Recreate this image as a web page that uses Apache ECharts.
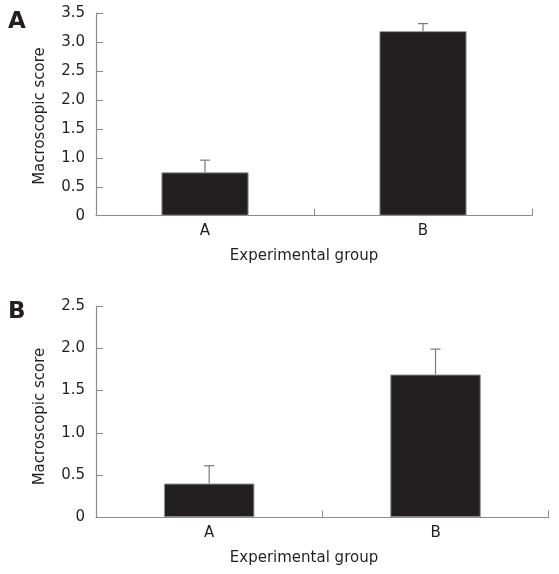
<!DOCTYPE html>
<html>
<head>
<meta charset="utf-8">
<script src="https://cdn.jsdelivr.net/npm/echarts@6/dist/echarts.min.js"></script>
<style>
html,body{margin:0;padding:0;background:#fff;}
#chart{width:559px;height:574px;}
</style>
</head>
<body>
<div id="chart"></div>
<script>
// ---- data ----
var categories = ['A', 'B'];
var panelA_means = [0.75, 3.19];
var panelA_errors = [0.21, 0.13];
var panelB_means = [0.40, 1.69];
var panelB_errors = [0.21, 0.30];
var panelA_ticks = [0, 3.5, 0.5];   // min, max, interval
var panelB_ticks = [0, 2.5, 0.5];
var panelLabels = ['A', 'B'];
var yTitle = 'Macroscopic score';
var xTitle = 'Experimental group';

var FONT = 'DejaVu Sans';
var TEXT = '#231f20';
var AXIS = '#8c8c8c';

function errData(means, errs) {
  return means.map(function (m, i) { return [i, m, errs[i]]; });
}

function errRender(params, api) {
  var i = api.value(0), m = api.value(1), e = api.value(2);
  var p0 = api.coord([i, m]);
  var p1 = api.coord([i, m + e]);
  var half = 5;
  var st = { stroke: '#7a7a7a', lineWidth: 1.2 };
  return {
    type: 'group',
    children: [
      { type: 'line', shape: { x1: p0[0], y1: p0[1], x2: p1[0], y2: p1[1] }, style: st },
      { type: 'line', shape: { x1: p1[0] - half, y1: p1[1], x2: p1[0] + half, y2: p1[1] }, style: st }
    ]
  };
}

function xAxisCfg(gi) {
  return {
    type: 'category', gridIndex: gi, data: categories,
    axisLine: { show: true, lineStyle: { color: AXIS, width: 1.2 } },
    axisTick: { show: true, inside: true, length: 7, lineStyle: { color: AXIS } },
    axisLabel: { color: TEXT, fontFamily: FONT, fontSize: 15, margin: 8 },
    splitLine: { show: false }
  };
}
function yAxisCfg(gi, t) {
  return {
    type: 'value', gridIndex: gi, min: t[0], max: t[1], interval: t[2],
    axisLine: { show: true, lineStyle: { color: AXIS, width: 1.2 } },
    axisTick: { show: true, inside: true, length: 7, lineStyle: { color: AXIS } },
    axisLabel: { color: TEXT, fontFamily: FONT, fontSize: 15, margin: 11,
      formatter: function (v) { return v === 0 ? '0' : v.toFixed(1); } },
    splitLine: { show: false }
  };
}
function barSeries(gi, means) {
  return {
    type: 'bar', xAxisIndex: gi, yAxisIndex: gi, data: means, barWidth: '40%',
    itemStyle: { color: '#231f20', borderColor: '#9a9a9a', borderWidth: 1 },
    silent: true
  };
}
function errSeries(gi, means, errs) {
  return {
    type: 'custom', xAxisIndex: gi, yAxisIndex: gi, data: errData(means, errs),
    renderItem: errRender, z: 1, silent: true
  };
}

var chart = echarts.init(document.getElementById('chart'), null, { renderer: 'canvas' });
chart.setOption({
  animation: false,
  backgroundColor: '#fff',
  grid: [
    { left: 96, top: 13.2, width: 436, height: 202.5 },
    { left: 96, top: 306, width: 452.7, height: 211.3 }
  ],
  xAxis: [xAxisCfg(0), xAxisCfg(1)],
  yAxis: [yAxisCfg(0, panelA_ticks), yAxisCfg(1, panelB_ticks)],
  series: [
    errSeries(0, panelA_means, panelA_errors),
    barSeries(0, panelA_means),
    errSeries(1, panelB_means, panelB_errors),
    barSeries(1, panelB_means)
  ],
  graphic: [
    { type: 'text', left: 8, top: 11, style: { text: panelLabels[0], font: 'bold 23px ' + FONT, fill: TEXT } },
    { type: 'text', left: 8, top: 301, style: { text: panelLabels[1], font: 'bold 23px ' + FONT, fill: TEXT } },
    { type: 'text', x: 40, y: 116, rotation: Math.PI / 2,
      style: { text: yTitle, font: '15px ' + FONT, fill: TEXT, textAlign: 'center', textVerticalAlign: 'middle' } },
    { type: 'text', x: 40, y: 416.5, rotation: Math.PI / 2,
      style: { text: yTitle, font: '15px ' + FONT, fill: TEXT, textAlign: 'center', textVerticalAlign: 'middle' } },
    { type: 'text', x: 304, y: 256, style: { text: xTitle, font: '15px ' + FONT, fill: TEXT, textAlign: 'center', textVerticalAlign: 'middle' } },
    { type: 'text', x: 304, y: 558, style: { text: xTitle, font: '15px ' + FONT, fill: TEXT, textAlign: 'center', textVerticalAlign: 'middle' } }
  ]
});
</script>
</body>
</html>
